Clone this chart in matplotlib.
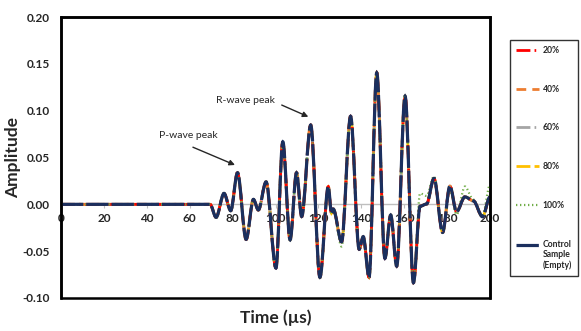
import matplotlib
matplotlib.use("Agg")
import matplotlib.pyplot as plt
from matplotlib.path import Path
from matplotlib.patches import PathPatch, Rectangle
from matplotlib.lines import Line2D
from matplotlib.transforms import Affine2D

# ---- data ----
time_us = [0, 69.5, 72.3, 76.0, 79.1, 82.3, 86.3, 89.7, 92.0, 95.6, 100.2,
           103.4, 106.8, 109.8, 112.2, 116.4, 120.7, 124.6, 126.1, 126.9,
           130.8, 135.0, 139.0, 140.9, 143.6, 147.2, 151.0, 153.7, 156.5,
           160.4, 164.3, 167.4, 170.4, 173.9, 177.9, 181.3, 184.4, 188.3,
           192.2, 196.5, 200.0]
amp_control = [0, 0, -0.0139, 0.0117, -0.0068, 0.0337, -0.0374, 0.0053,
               -0.0060, 0.0240, -0.0680, 0.0668, -0.0380, 0.0337, -0.0130,
               0.0847, -0.0780, 0.0188, -0.0096, -0.0050, -0.0400, 0.0940,
               -0.0480, -0.0345, -0.0780, 0.1405, -0.0577, -0.0114, -0.0660,
               0.1156, -0.0837, -0.0020, 0.0003, 0.0277, -0.0300, 0.0195,
               -0.0079, 0.0080, 0.0038, -0.0132, 0.0080]
amp_20 = list(amp_control)
amp_40 = list(amp_control)
amp_60 = list(amp_control)
amp_80 = list(amp_control)
amp_100 = [0, 0, -0.0139, 0.0117, -0.0068, 0.0337, -0.0374, 0.0053,
           -0.0060, 0.0240, -0.0680, 0.0668, -0.0380, 0.0337, -0.0130,
           0.0847, -0.0780, 0.0188, -0.0096, -0.0050, -0.0450, 0.0940,
           -0.0480, -0.0345, -0.0780, 0.1405, -0.0577, -0.0114, -0.0660,
           0.1156, -0.0837, 0.0117, 0.0090, 0.0300, -0.0300, 0.0160,
           -0.0110, 0.0190, 0.0050, -0.0120, 0.0206]
series_labels = ["20%", "40%", "60%", "80%", "100%", "Control\nSample\n(Empty)"]
x_ticks = [0, 20, 40, 60, 80, 100, 120, 140, 160, 180, 200]
y_ticks = [-0.10, -0.05, 0.00, 0.05, 0.10, 0.15, 0.20]

series = [amp_20, amp_40, amp_60, amp_80, amp_100, amp_control]
colors = ["#FF0000", "#ED7D31", "#A5A5A5", "#FFC000", "#70AD47", "#1B2F5E"]
widths = [2.0, 2.0, 2.0, 2.0, 1.6, 2.3]
dashes = [(0, (5, 1.5, 0.6, 1.5)), (0, (3.5, 2.2)), (0, (5, 1.5, 0.6, 1.5, 0.6, 1.5)),
          (0, (5, 1.5)), (0, (0.6, 1.2)), (0, (7, 0.9))]
draw_order = [3.4, 3.3, 3.2, 3.1, 3.5, 3.6]

plt.rcParams['font.family'] = ['Lato', 'DejaVu Sans']

fig = plt.figure(figsize=(5.81, 3.31), dpi=100)
ax = fig.add_axes([0.105, 0.0997, 0.7384, 0.8489])


def smooth_path(xs, ys):
    verts = [(xs[0], ys[0])]
    codes = [Path.MOVETO]
    for i in range(len(xs) - 1):
        dx = (xs[i + 1] - xs[i]) / 3.0
        verts += [(xs[i] + dx, ys[i]), (xs[i + 1] - dx, ys[i + 1]), (xs[i + 1], ys[i + 1])]
        codes += [Path.CURVE4] * 3
    return Path(verts, codes)


handles = []
for vals, c, lw, ls, lab, z in zip(series, colors, widths, dashes, series_labels, draw_order):
    patch = PathPatch(smooth_path(time_us, vals), fill=False, edgecolor=c,
                      linewidth=lw, linestyle=ls, capstyle='butt', zorder=z)
    ax.add_patch(patch)
    handles.append(Line2D([], [], color=c, linewidth=lw, linestyle=ls, label=lab))

ax.set_xlim(0, 200)
ax.set_ylim(-0.10, 0.20)
ax.set_xticks(x_ticks)
ax.set_yticks(y_ticks)
ax.set_yticklabels([f"{v:.2f}" for v in y_ticks])

for s in ['top', 'left', 'right']:
    ax.spines[s].set_color('black')
    ax.spines[s].set_linewidth(1.8)
ax.spines['bottom'].set_position(('data', 0))
ax.spines['bottom'].set_color('#BFBFBF')
ax.spines['bottom'].set_linewidth(1.0)
ax.spines['bottom'].set_zorder(2)
ax.add_patch(Rectangle((0, 0), 1, 1, transform=ax.transAxes, fill=False,
                       edgecolor='black', linewidth=1.8, clip_on=False, zorder=5))

ax.tick_params(axis='y', length=0, pad=8, labelsize=8.5, labelcolor='#262626')
ax.tick_params(axis='x', length=3, color='#BFBFBF', pad=3, labelsize=8.5,
               labelcolor='#262626')
for lbl in ax.get_xticklabels() + ax.get_yticklabels():
    lbl.set_fontweight('bold')

ax.set_xlabel("Time (µs)", fontsize=12.5, fontweight='bold', color='#262626')
ax.xaxis.set_label_coords(0.5, -0.04)
ax.set_ylabel("Amplitude", fontsize=12.5, fontweight='bold', color='#262626')
ax.yaxis.set_label_coords(-0.092, 0.5)

ax.text(59.4, 0.074, "P-wave peak", fontsize=7.5, ha='center', va='center',
        color='#262626')
ax.text(85.8, 0.111, "R-wave peak", fontsize=7.5, ha='center', va='center',
        color='#262626')
ax.annotate("", xy=(81.1, 0.042), xytext=(61.5, 0.061),
            arrowprops=dict(arrowstyle='-|>', color='#262626', lw=1.0,
                            shrinkA=0, shrinkB=0, mutation_scale=8))
ax.annotate("", xy=(115.3, 0.0935), xytext=(102.9, 0.106),
            arrowprops=dict(arrowstyle='-|>', color='#262626', lw=1.0,
                            shrinkA=0, shrinkB=0, mutation_scale=8))

leg = fig.legend(handles=handles, loc='upper left', bbox_to_anchor=(0.878, 0.879),
                 frameon=True, fancybox=False, edgecolor='black', fontsize=6.2,
                 handlelength=2.7, labelspacing=3.45, borderpad=0.7,
                 handletextpad=0.35, borderaxespad=0)
leg.get_frame().set_linewidth(1.0)
for t in leg.get_texts():
    t.set_fontweight('bold')
    t.set_color('#262626')
# align the control handle with the first line of its three-line label
ctrl = leg.get_lines()[-1]
ctrl.set_transform(ctrl.get_transform() + Affine2D().translate(0, 10.5))

fig.savefig("out.png", dpi=100)
